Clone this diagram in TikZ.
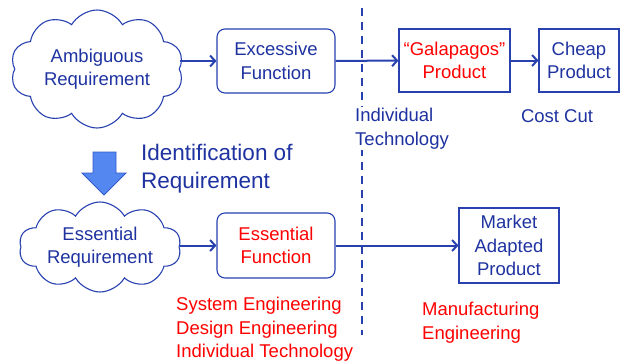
\documentclass[tikz,border=0pt]{standalone}
\usepackage{fontspec}
\setmainfont{Liberation Sans}
\usetikzlibrary{positioning,arrows.meta,shapes.symbols}
\definecolor{textBlue}{RGB}{30,50,160}
\definecolor{lineBlue}{RGB}{40,65,175}
\definecolor{arrowFill}{RGB}{85,135,240}
\definecolor{arrowEdge}{RGB}{50,90,205}
\tikzset{
  labelFont/.style={
    font=\fontsize{18.5}{23.5}\selectfont
  },
  reqCloud/.style={
    cloud,
    draw=lineBlue,
    line width=1.1pt,
    cloud puffs=10,
    cloud puff arc=120,
    cloud ignores aspect,
    inner sep=0pt,
    text=textBlue,
    align=center,
    labelFont
  },
  funcBox/.style={
    rectangle,
    rounded corners=8pt,
    draw=lineBlue,
    line width=1.1pt,
    minimum width=118pt,
    minimum height=64pt,
    text=textBlue,
    align=center,
    labelFont
  },
  productBox/.style={
    rectangle,
    draw=lineBlue,
    line width=1.1pt,
    minimum height=63pt,
    inner sep=2pt,
    text=textBlue,
    align=center,
    labelFont
  },
  noteText/.style={
    text=textBlue,
    align=left,
    inner sep=1pt,
    labelFont
  },
  arrowLine/.style={
    -{Straight Barb[length=5pt,width=11pt]},
    draw=lineBlue,
    line width=2pt
  }
}
\begin{document}
\begin{tikzpicture}[x=1pt,y=-1pt]
  \useasboundingbox (0,0) rectangle (622,360);

  % upper row
  \node[reqCloud, minimum width=173pt, minimum height=118pt] (ambigReq) at (97,69) {Ambiguous\\Requirement};
  \node[funcBox] (excessFunc) at (276,61) {Excessive\\Function};
  \node[productBox, minimum width=111pt, text=red] (galapProd) at (454.5,60.5) {``Galapagos''\\Product};
  \node[productBox, minimum width=80pt] (cheapProd) at (579,60.5) {Cheap\\Product};

  % dividing line
  \coordinate (dashTop) at (362,8);
  \coordinate (dashBot) at (362,335);
  \draw[lineBlue, line width=2pt, dash pattern=on 8pt off 6pt] (dashTop) -- (dashBot);

  \node[noteText, anchor=north west, fill=white] (indivTech) at (354,107) {Individual\\Technology};
  \node[noteText] (costCut) at (557,116) {Cost Cut};

  \draw[arrowLine] (excessFunc.west -| ambigReq.east) -- (excessFunc.west);
  \draw[arrowLine] (excessFunc) -- (galapProd);
  \draw[arrowLine] (galapProd) -- (cheapProd);

  % identification step
  \draw[arrowEdge, fill=arrowFill, line width=0.8pt]
    (93,152) -- (116,152) -- (116,173) -- (126,173) -- (104,195) -- (82,173) -- (93,173) -- cycle;
  \node[noteText, anchor=west, font=\fontsize{22.5}{28}\selectfont] (identReq) at (140,168.5) {Identification of\\Requirement};

  % lower row
  \node[reqCloud, minimum width=162pt, minimum height=90pt] (essReq) at (100,247) {Essential\\Requirement};
  \node[funcBox, minimum height=65pt, text=red] (essFunc) at (276,245.5) {Essential\\Function};
  \node[productBox, minimum width=100pt, minimum height=75pt] (marketProd) at (509,245.5) {Market\\Adapted\\Product};

  \draw[arrowLine] (essFunc.west -| essReq.east) -- (essFunc.west);
  \draw[arrowLine] (essFunc) -- (marketProd);

  \node[noteText, anchor=north west, text=red] (engList) at (175,296) {System Engineering\\Design Engineering\\Individual Technology};
  \node[noteText, anchor=north west, text=red] (mfgEng) at (421,301) {Manufacturing\\Engineering};
\end{tikzpicture}
\end{document}
